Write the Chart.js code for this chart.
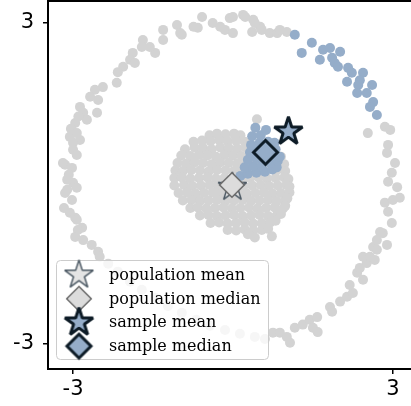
<!DOCTYPE html>
<html>
<head>
<meta charset="utf-8">
<script src="https://cdn.jsdelivr.net/npm/chart.js@4.4.1/dist/chart.umd.min.js"></script>
<style>
  html, body { margin: 0; padding: 0; background: #fff; overflow: hidden; }
  canvas { display: block; }
</style>
</head>
<body>
<canvas id="chart" width="411" height="406"></canvas>
<script>
// population: outer ring (gray)
const ringPop = [
  [-0.58, 3.11], [-0.38, 3.00], [-0.66, 2.91], [-0.06, 3.09], [-0.15, 2.87], [0.00, 2.81],
  [-1.05, 2.96], [-0.96, 2.78], [-1.31, 2.87], [-1.31, 2.68], [-1.69, 2.68], [-1.71, 2.55],
  [-1.46, 2.44], [-1.56, 2.55], [-1.88, 2.44], [-1.93, 2.31], [-1.84, 2.25], [-2.06, 2.18],
  [-2.16, 2.08], [-2.18, 1.88], [-2.44, 1.80], [-2.59, 1.75], [-2.68, 1.62], [-2.53, 1.56],
  [-2.87, 1.43], [-2.81, 1.32], [-2.55, 1.32], [-2.74, 1.19],
  [0.19, 3.15], [0.38, 3.06], [0.51, 2.93], [0.69, 2.81], [0.83, 2.81], [1.01, 2.83],
  [-0.24, 2.93], [-0.74, 2.93], [-0.99, 2.81], [0.00, 3.11], [0.23, 3.11], [0.41, 3.00],
  [0.54, 2.87], [0.88, 2.87], [0.36, 2.83],
  [-2.96, 1.13], [-2.90, 1.25], [-3.04, 1.02], [-3.06, 0.87], [-2.87, 0.81], [-2.93, 0.94],
  [-3.00, 0.76], [-3.00, 0.63], [-2.93, 0.53], [-3.15, 0.35], [-3.02, 0.29], [-3.19, 0.38],
  [-3.08, 0.16], [-3.00, 0.01], [-3.11, 0.07], [-3.11, -0.12], [-2.93, -0.08], [-3.15, -0.18],
  [-3.02, -0.31], [-3.06, -0.55], [-3.17, -0.46], [-2.96, -0.64], [-2.93, -0.68], [-2.83, -0.83],
  [-2.91, -0.87], [-2.96, -1.00], [-2.81, -1.06], [-2.65, -1.15], [-2.53, -1.28], [-2.50, -1.37],
  [-2.34, -1.50], [-2.16, -1.65], [-1.93, -1.84], [-1.71, -1.99], [-1.46, -2.14], [-1.22, -2.29],
  [-0.96, -2.42], [-0.69, -2.55], [-0.43, -2.66], [-0.15, -2.74], [0.13, -2.81], [0.41, -2.87],
  [0.60, -2.91],
  [0.75, -2.79], [0.88, -2.79], [1.01, -2.87], [1.07, -2.98], [1.16, -2.70], [1.31, -2.64],
  [1.44, -2.55], [1.50, -2.70], [1.59, -2.78], [1.58, -2.50], [1.82, -2.31], [1.86, -2.40],
  [2.01, -2.21], [2.14, -2.12], [2.25, -2.05], [2.19, -1.90], [2.44, -1.80], [2.33, -1.67],
  [2.38, -1.58], [2.51, -1.49], [2.44, -1.37], [2.57, -1.37], [2.66, -1.43], [2.63, -1.19],
  [2.70, -1.24], [2.89, -1.15], [2.81, -0.93], [2.76, -0.91], [2.70, -1.06], [2.98, -0.74],
  [2.91, -0.53], [2.85, -0.36], [3.13, -0.27], [3.00, -0.31], [3.08, -0.07], [2.91, 0.03],
  [2.98, 0.20], [3.04, 0.38], [2.89, 0.57], [2.91, 0.72], [2.85, 1.06], [2.95, 1.00],
  [2.53, 0.94]
];

// population: central blob (gray)
const blobPop = [
  [-0.44, 0.90], [-0.30, 0.93], [-0.14, 0.92], [0.02, 0.93], [0.14, 0.90], [0.45, 1.20],
  [-0.74, 0.78], [-0.58, 0.80], [-0.42, 0.79], [-0.26, 0.81], [-0.10, 0.79], [0.06, 0.80], [0.22, 0.78],
  [-0.90, 0.64], [-0.72, 0.67], [-0.56, 0.66], [-0.40, 0.64], [-0.24, 0.67], [-0.08, 0.66],
  [0.08, 0.65], [0.24, 0.67], [0.40, 0.66],
  [-0.97, 0.52], [-0.80, 0.51], [-0.64, 0.53], [-0.48, 0.52], [-0.32, 0.50], [-0.16, 0.53],
  [0.00, 0.52], [0.16, 0.51], [0.32, 0.53], [0.48, 0.52], [0.64, 0.50], [0.80, 0.52], [0.90, 0.50],
  [-1.04, 0.38], [-0.88, 0.37], [-0.72, 0.39], [-0.56, 0.38], [-0.40, 0.36], [-0.24, 0.39],
  [-0.08, 0.38], [0.08, 0.37], [0.24, 0.39], [0.40, 0.38], [0.56, 0.36], [0.72, 0.38], [0.88, 0.39], [0.96, 0.36],
  [-1.08, 0.24], [-0.94, 0.23], [-0.78, 0.25], [-0.62, 0.24], [-0.46, 0.22], [-0.30, 0.25],
  [-0.14, 0.24], [0.02, 0.23], [0.18, 0.25], [0.34, 0.24], [0.50, 0.22], [0.66, 0.25], [0.82, 0.24], [0.98, 0.23],
  [-1.10, 0.10], [-0.96, 0.11], [-0.80, 0.09], [-0.64, 0.10], [-0.48, 0.11], [-0.32, 0.09],
  [-0.16, 0.10], [0.00, 0.11], [0.16, 0.09], [0.32, 0.10], [0.48, 0.11], [0.64, 0.09],
  [0.80, 0.10], [0.96, 0.11], [1.04, 0.08],
  [-1.10, -0.04], [-0.92, -0.03], [-0.76, -0.05], [-0.60, -0.04], [-0.44, -0.03], [-0.28, -0.05],
  [-0.12, -0.04], [0.04, -0.03], [0.20, -0.05], [0.36, -0.04], [0.52, -0.03], [0.68, -0.05],
  [0.84, -0.04], [1.00, -0.03], [1.06, -0.06],
  [-1.02, -0.18], [-0.86, -0.17], [-0.70, -0.19], [-0.54, -0.18], [-0.38, -0.17], [-0.22, -0.19],
  [-0.06, -0.18], [0.10, -0.17], [0.26, -0.19], [0.42, -0.18], [0.58, -0.17], [0.74, -0.19],
  [0.90, -0.18], [1.06, -0.17],
  [-0.94, -0.32], [-0.78, -0.31], [-0.62, -0.33], [-0.46, -0.32], [-0.30, -0.31], [-0.14, -0.33],
  [0.02, -0.32], [0.18, -0.31], [0.34, -0.33], [0.50, -0.32], [0.66, -0.31], [0.82, -0.33],
  [0.98, -0.32], [1.02, -0.28],
  [-0.80, -0.46], [-0.66, -0.45], [-0.50, -0.47], [-0.34, -0.46], [-0.18, -0.45], [-0.02, -0.47],
  [0.14, -0.46], [0.30, -0.45], [0.46, -0.47], [0.62, -0.46], [0.78, -0.45], [0.94, -0.47], [0.98, -0.42],
  [-0.62, -0.60], [-0.46, -0.59], [-0.30, -0.61], [-0.14, -0.60], [0.02, -0.59], [0.18, -0.61],
  [0.34, -0.60], [0.50, -0.59], [0.66, -0.61], [0.82, -0.60], [0.90, -0.57],
  [-0.42, -0.74], [-0.26, -0.73], [-0.10, -0.75], [0.06, -0.74], [0.22, -0.73], [0.38, -0.75],
  [0.54, -0.74], [0.70, -0.73], [0.80, -0.70],
  [-0.10, -0.87], [0.06, -0.88], [0.22, -0.86], [0.38, -0.88], [0.54, -0.87], [0.66, -0.85],
  [0.41, -1.01], [0.73, -0.99], [0.28, -0.95]
];

// sample drawn from the population (blue)
const ringSample = [
  [1.16, 2.78], [1.48, 2.63], [1.29, 2.44], [1.69, 2.50], [1.82, 2.53], [2.01, 2.46],
  [1.63, 2.31], [1.86, 2.35], [1.91, 2.25], [1.97, 2.18], [2.16, 2.16], [2.23, 2.07],
  [2.44, 2.07], [2.14, 1.90], [2.38, 1.93], [2.35, 1.84], [2.61, 1.84], [2.33, 1.69],
  [2.51, 1.69], [2.63, 1.52], [2.57, 1.43], [2.70, 1.28]
];
const blobSample = [
  [0.14, 0.14], [0.28, 0.18], [0.44, 0.20], [0.60, 0.22], [0.74, 0.26], [0.82, 0.30],
  [0.22, 0.30], [0.38, 0.32], [0.54, 0.34], [0.70, 0.38], [0.84, 0.42],
  [0.28, 0.44], [0.44, 0.47], [0.60, 0.49], [0.76, 0.52], [0.88, 0.50],
  [0.32, 0.58], [0.48, 0.62], [0.64, 0.64], [0.80, 0.64],
  [0.34, 0.72], [0.50, 0.76], [0.66, 0.78], [0.78, 0.76],
  [0.36, 0.88], [0.52, 0.90], [0.42, 1.04], [0.62, 1.00]
];

// summary markers
const popMean = [-0.01, -0.07];
const popMedian = [-0.02, -0.03];
const sampleMean = [1.04, 0.97];
const sampleMedian = [0.61, 0.58];

const xTicks = [-3, 3];
const yTicks = [-3, 3];
const legendLabels = ['population mean', 'population median', 'sample mean', 'sample median'];

const GRAY = '#d3d3d3';
const BLUE = '#95adc9';
const DARK = '#0d1b26';

// filled star / diamond marker drawn into a small canvas
function markerImage(shape, fill, stroke, lw, r) {
  const size = Math.ceil(2 * r + 3 * lw + 4);
  const c = document.createElement('canvas');
  c.width = size;
  c.height = size;
  const g = c.getContext('2d');
  g.translate(size / 2, size / 2);
  g.beginPath();
  if (shape === 'star') {
    for (let i = 0; i < 10; i++) {
      const rr = i % 2 ? r * 0.382 : r;
      const a = -Math.PI / 2 + i * Math.PI / 5;
      g.lineTo(rr * Math.cos(a), rr * Math.sin(a));
    }
    g.lineJoin = 'bevel';
  } else {
    g.moveTo(0, -r);
    g.lineTo(r, 0);
    g.lineTo(0, r);
    g.lineTo(-r, 0);
    g.lineJoin = 'miter';
  }
  g.closePath();
  g.fillStyle = fill;
  g.fill();
  g.lineWidth = lw;
  g.strokeStyle = stroke;
  g.stroke();
  return c;
}

const markers = [
  markerImage('star', '#e4e4e4', '#4b5863', 1.5, 15),
  markerImage('diamond', '#dcdcdc', '#6a6a6a', 1.5, 12.3),
  markerImage('star', BLUE, DARK, 3, 14.8),
  markerImage('diamond', BLUE, DARK, 3, 12)
];

const toXY = p => ({ x: p[0], y: p[1] });

// keep the plot box where it is in the reference: no extra label padding
function fixBox(axis, prop, size) {
  axis[prop] = size;
  axis.paddingTop = 0;
  axis.paddingBottom = 0;
  axis.paddingLeft = 0;
  axis.paddingRight = 0;
}

// top spine (right spine falls outside the picture)
const topSpine = {
  id: 'topSpine',
  afterDraw(chart) {
    const { ctx, chartArea } = chart;
    ctx.save();
    ctx.strokeStyle = '#000';
    ctx.lineWidth = 2;
    ctx.beginPath();
    ctx.moveTo(chartArea.left - 1, chartArea.top);
    ctx.lineTo(chartArea.right, chartArea.top);
    ctx.stroke();
    ctx.restore();
  }
};

// legend box in the lower left corner
const boxLegend = {
  id: 'boxLegend',
  afterDraw(chart) {
    const ctx = chart.ctx;
    const x = 56.5, y = 260.5, w = 212, h = 99, r = 4;
    ctx.save();
    ctx.beginPath();
    ctx.moveTo(x + r, y);
    ctx.arcTo(x + w, y, x + w, y + h, r);
    ctx.arcTo(x + w, y + h, x, y + h, r);
    ctx.arcTo(x, y + h, x, y, r);
    ctx.arcTo(x, y, x + w, y, r);
    ctx.closePath();
    ctx.fillStyle = 'rgba(255,255,255,0.8)';
    ctx.fill();
    ctx.strokeStyle = '#cccccc';
    ctx.lineWidth = 1;
    ctx.stroke();
    ctx.font = '16px "DejaVu Serif", serif';
    ctx.fillStyle = '#000';
    ctx.textBaseline = 'alphabetic';
    legendLabels.forEach((label, i) => {
      const cy = 275 + i * 23.7;
      const img = markers[i];
      ctx.drawImage(img, 79 - img.width / 2, cy - img.height / 2);
      ctx.fillText(label, 109, cy + 5);
    });
    ctx.restore();
  }
};

const tickFont = { family: '"DejaVu Sans", sans-serif', size: 21 };

new Chart(document.getElementById('chart'), {
  type: 'scatter',
  data: {
    datasets: [
      { data: [sampleMedian].map(toXY), pointStyle: markers[3], pointRadius: 14, order: 1 },
      { data: [sampleMean].map(toXY), pointStyle: markers[2], pointRadius: 15, order: 2 },
      { data: [popMedian].map(toXY), pointStyle: markers[1], pointRadius: 13, order: 3 },
      { data: [popMean].map(toXY), pointStyle: markers[0], pointRadius: 15, order: 4 },
      {
        data: ringSample.concat(blobSample).map(toXY),
        pointRadius: 5, pointBorderWidth: 0, backgroundColor: BLUE, order: 5
      },
      {
        data: ringPop.concat(blobPop).map(toXY),
        pointRadius: 5, pointBorderWidth: 0, backgroundColor: GRAY, order: 6
      }
    ]
  },
  options: {
    responsive: false,
    animation: false,
    events: [],
    layout: { autoPadding: false, padding: { top: 1, right: 0, bottom: 0, left: 0 } },
    plugins: {
      legend: { display: false },
      tooltip: { enabled: false }
    },
    scales: {
      x: {
        type: 'linear',
        min: -3.47,
        max: 3.34,
        afterBuildTicks: axis => { axis.ticks = xTicks.map(v => ({ value: v })); },
        afterFit: axis => fixBox(axis, 'height', 37),
        grid: { drawOnChartArea: false, color: '#000', lineWidth: 1.5, tickLength: 5 },
        border: { color: '#000', width: 2 },
        ticks: { font: tickFont, color: '#000', padding: 3, maxRotation: 0 }
      },
      y: {
        type: 'linear',
        min: -3.47,
        max: 3.41,
        afterBuildTicks: axis => { axis.ticks = yTicks.map(v => ({ value: v })); },
        afterFit: axis => fixBox(axis, 'width', 48),
        grid: { drawOnChartArea: false, color: '#000', lineWidth: 1.5, tickLength: 5 },
        border: { color: '#000', width: 2 },
        ticks: { font: tickFont, color: '#000', padding: 9 }
      }
    }
  },
  plugins: [topSpine, boxLegend]
});
</script>
</body>
</html>
